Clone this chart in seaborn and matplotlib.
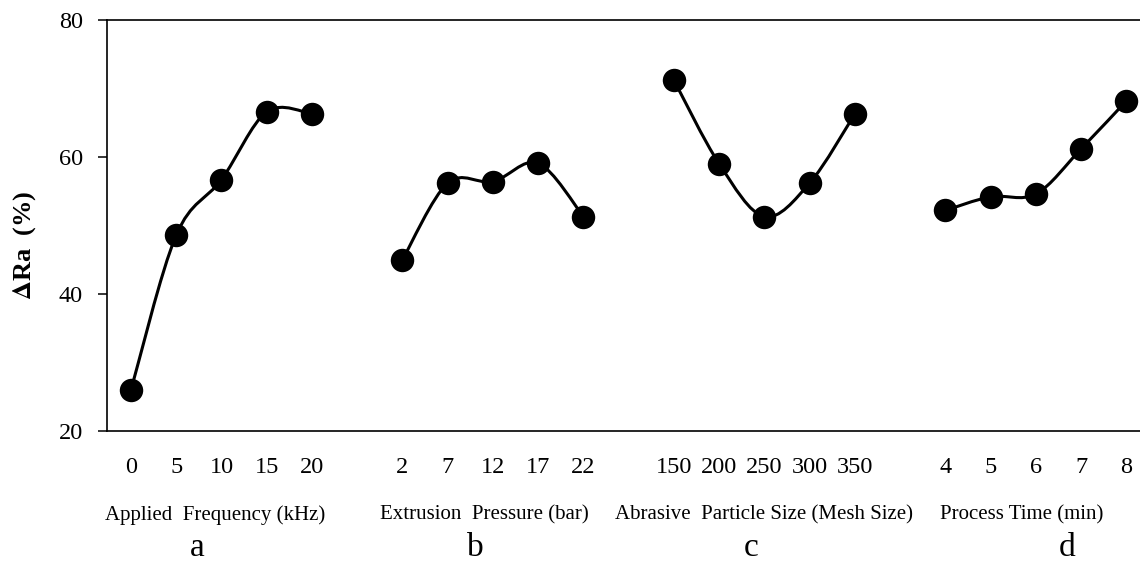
import numpy as np
import pandas as pd
import matplotlib
matplotlib.use("Agg")
import matplotlib.pyplot as plt
import seaborn as sns
from matplotlib.path import Path
from matplotlib.patches import PathPatch
from matplotlib.transforms import blended_transform_factory

# values (Delta Ra, %)
freq_labels = ["0", "5", "10", "15", "20"]
freq_vals = [26.0, 48.6, 56.7, 66.6, 66.3]
pres_labels = ["2", "7", "12", "17", "22"]
pres_vals = [45.0, 56.2, 56.4, 59.1, 51.3]
mesh_labels = ["150", "200", "250", "300", "350"]
mesh_vals = [71.2, 59.0, 51.3, 56.2, 66.3]
time_labels = ["4", "5", "6", "7", "8"]
time_vals = [52.2, 54.2, 54.6, 61.2, 68.2]

group_titles = ["Applied  Frequency (kHz)", "Extrusion  Pressure (bar)",
                "Abrasive  Particle Size (Mesh Size)", "Process Time (min)"]
panel_letters = ["a", "b", "c", "d"]

groups = [(freq_labels, freq_vals), (pres_labels, pres_vals),
          (mesh_labels, mesh_vals), (time_labels, time_vals)]

rows = []
for g, (labs, vals) in enumerate(groups):
    for i, (l, v) in enumerate(zip(labs, vals)):
        rows.append({"group": g, "pos": g * 6 + i, "label": l, "value": v})
df = pd.DataFrame(rows)


def smooth_path(x, y):
    # excel-style smoothed line (catmull-rom as cubic bezier)
    pts = np.column_stack([x, y]).astype(float)
    n = len(pts)
    verts = [pts[0]]
    codes = [Path.MOVETO]
    for i in range(n - 1):
        p0 = pts[max(i - 1, 0)]
        p1 = pts[i]
        p2 = pts[i + 1]
        p3 = pts[min(i + 2, n - 1)]
        verts += [p1 + (p2 - p0) / 6, p2 - (p3 - p1) / 6, p2]
        codes += [Path.CURVE4] * 3
    return Path(verts, codes)


sns.set_theme(style="white")
plt.rcParams["font.family"] = ["Liberation Serif", "DejaVu Serif"]
plt.rcParams["mathtext.fontset"] = "stix"
plt.rcParams["text.color"] = "black"
plt.rcParams["xtick.color"] = "black"
plt.rcParams["ytick.color"] = "black"

fig = plt.figure(figsize=(11.4, 5.63), dpi=100)
ax = fig.add_axes([107 / 1140, 1 - 431 / 563, 1 - 107 / 1140, 411 / 563])

for g in range(4):
    sub = df[df["group"] == g]
    ax.add_patch(PathPatch(smooth_path(sub["pos"], sub["value"]),
                           facecolor="none", edgecolor="black", lw=2.2, zorder=2))

sns.scatterplot(data=df, x="pos", y="value", color="black", s=285,
                edgecolor="black", linewidth=0, zorder=3, ax=ax, legend=False)

ax.set_xlim(-0.53, 22.3)
ax.set_ylim(20, 80)
ax.set_yticks([20, 40, 60, 80])
ax.set_xticks(df["pos"])
ax.set_xticklabels(df["label"])
ax.tick_params(axis="x", length=0, pad=19, labelsize=17.5, labelcolor="black")
ax.tick_params(axis="y", direction="out", length=6.5, width=1.1, pad=11,
               labelsize=17.5, left=True, color="black", labelcolor="black")
ax.set_xlabel("")
ax.set_ylabel(r"$\mathbf{\Delta}$Ra  (%)", fontsize=19, fontweight="bold",
              color="black", va="center")
ax.yaxis.set_label_coords((25 - 107) / 1033, (431 - 245) / 411)

for side in ["left", "top", "bottom"]:
    ax.spines[side].set_color("black")
    ax.spines[side].set_linewidth(1.2)
ax.spines["right"].set_visible(False)

trans = blended_transform_factory(ax.transData, fig.transFigure)
title_x = [1.86, 7.82, 13.98, 19.68]
letter_x = [1.46, 7.6, 13.7, 20.7]
for g in range(4):
    ax.text(title_x[g], 1 - 515 / 563, group_titles[g], transform=trans,
            ha="center", va="center", fontsize=15, clip_on=False)
    ax.text(letter_x[g], 1 - 556 / 563, panel_letters[g], transform=trans,
            ha="center", va="baseline", fontsize=24, clip_on=False)

fig.savefig("out.png", dpi=100)
